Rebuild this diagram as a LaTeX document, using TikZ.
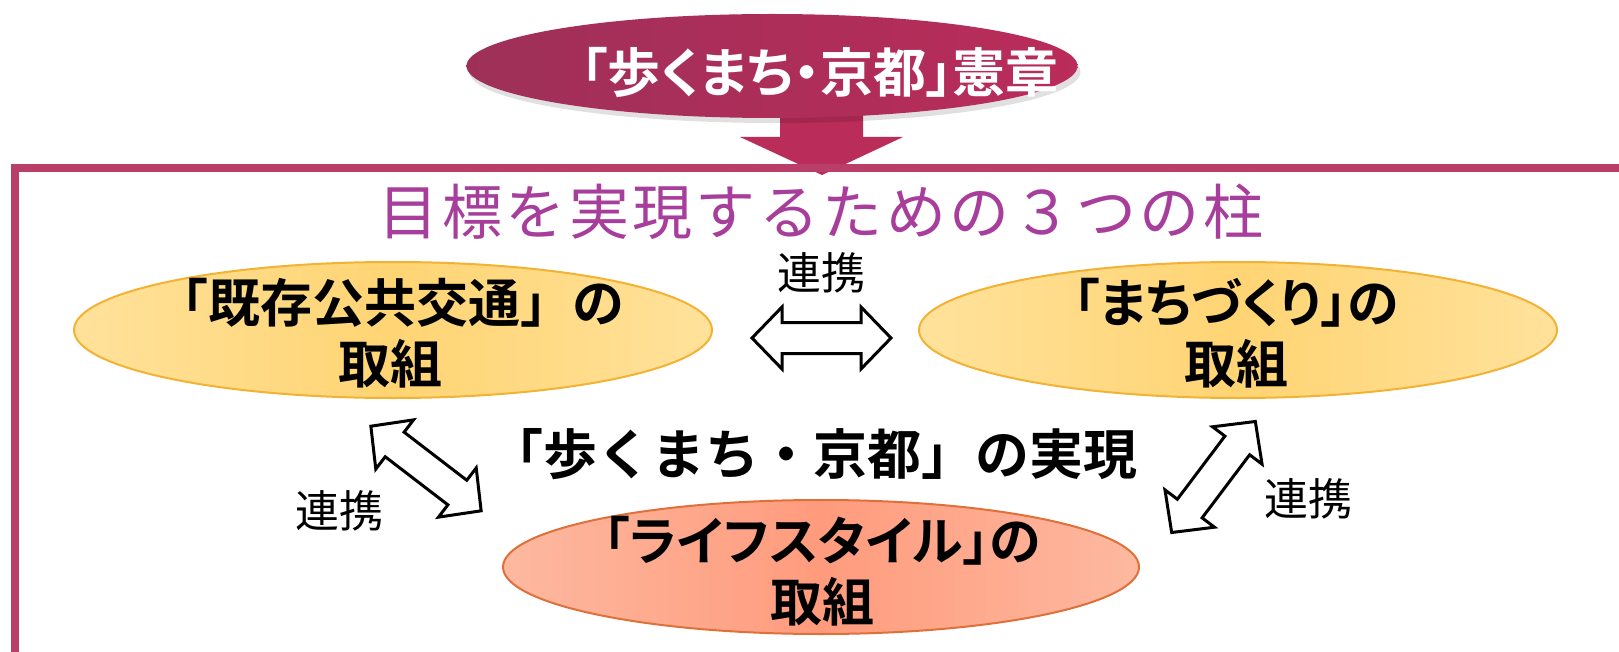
\documentclass[tikz,border=0pt]{standalone}
\usepackage{fontspec}
\usetikzlibrary{shapes.geometric}
\newfontfamily\jp{Noto Sans CJK JP}[BoldFont={Noto Sans CJK JP Bold}]
\newfontfamily\jpp{Noto Sans CJK JP}[BoldFont={Noto Sans CJK JP Bold}, RawFeature=+palt]
\newfontfamily\jpt{Noto Sans CJK JP}[LetterSpace=5.7]
\definecolor{framec}{RGB}{185,62,104}
\definecolor{crim}{RGB}{186,44,90}
\definecolor{crimd}{RGB}{158,48,88}
\definecolor{titlep}{RGB}{168,62,155}
\definecolor{yelB}{RGB}{243,178,52}
\definecolor{yelL}{RGB}{255,226,155}
\definecolor{yelD}{RGB}{255,212,115}
\definecolor{salB}{RGB}{224,112,58}
\definecolor{salL}{RGB}{253,185,160}
\definecolor{salD}{RGB}{255,155,125}
\begin{document}
\begin{tikzpicture}[x=1pt,y=-1pt,
  oval/.style={ellipse, inner sep=0pt, line width=2pt},
  yoval/.style={oval, draw=yelB, left color=yelL, right color=yelL, middle color=yelD, minimum width=638pt, minimum height=136pt},
  soval/.style={oval, draw=salB, left color=salL, right color=salL, middle color=salD, minimum width=636pt, minimum height=134pt},
  pillar/.style={font=\jp\bfseries\fontsize{52}{61}\selectfont, align=center, inner sep=0pt},
  pillarp/.style={font=\jpp\bfseries\fontsize{52}{61}\selectfont, align=center, inner sep=0pt},
  link/.style={font=\jp\fontsize{44}{44}\selectfont, inner sep=0pt},
  dbl/.style={draw=black, fill=white, line width=3pt, line join=miter},
]
\useasboundingbox (0,0) rectangle (1619,652);
\clip (0,0) rectangle (1619,652);
\fill[white] (0,0) rectangle (1619,652);

% down arrow from charter to frame
\fill[crim] (780,110) -- (863,110) -- (863,137) -- (903,137) -- (822,175) -- (740,137) -- (780,137) -- cycle;

% charter ellipse with soft shadow
\node[oval, fill=black, opacity=.12, minimum width=611pt, minimum height=102pt] (chsh) at (775,72) {};
\node[oval, left color=crimd, right color=crim, minimum width=611pt, minimum height=104pt] (charter) at (772,66) {};
\node[font=\jpp\bfseries\fontsize{53}{53}\selectfont, text=white, inner sep=0pt] (chtext) at (820,73) {「歩くまち・京都」憲章};

% frame
\draw[framec, line width=8pt] (15,700) -- (15,168) -- (1700,168);

% title
\node[font=\jpt\fontsize{60}{60}\selectfont, text=titlep, inner sep=0pt] (title) at (821,212) {目標を実現するための３つの柱};

% pillars
\node[yoval] (pt) at (393,330) {};
\node[yoval] (mz) at (1238,330) {};
\node[soval] (ls) at (821,567) {};
\node[pillar] (pttext) at (390,333) {「既存公共交通」の\\取組};
\node[pillarp] (mztext) at (1236,333) {「まちづくり」の\\取組};
\node[pillarp] (lstext) at (822,571) {「ライフスタイル」の\\取組};

% centre
\node[font=\jp\bfseries\fontsize{54}{54}\selectfont, inner sep=0pt] (goal) at (813,454) {「歩くまち・京都」の実現};

% double arrows
\foreach \cx/\cy/\ang/\nm in {821.5/338/0/ah, 426/468.5/-37.5/al, 1213.5/477/53/ar}{
  \coordinate (\nm) at (\cx,\cy);
  \draw[dbl, shift={(\nm)}, rotate=\ang] (-69.5,0) -- (-39.5,31) -- (-39.5,15.5) -- (39.5,15.5) -- (39.5,31) -- (69.5,0) -- (39.5,-31) -- (39.5,-15.5) -- (-39.5,-15.5) -- (-39.5,-31) -- cycle;
}

% link labels
\node[link] (l1) at (821,273) {連携};
\node[link] (l2) at (339,511) {連携};
\node[link] (l3) at (1308,499) {連携};
\end{tikzpicture}
\end{document}
